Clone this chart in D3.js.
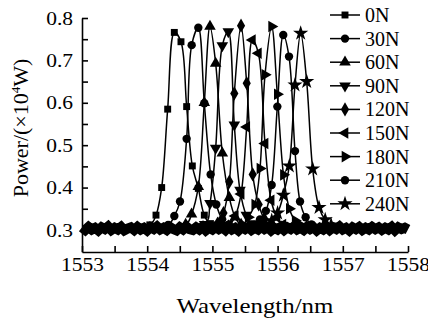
<!DOCTYPE html>
<html>
<head>
<meta charset="utf-8">
<script src="https://cdn.jsdelivr.net/npm/d3@7"></script>
<style>
    body { margin: 0; background: #fff; }
    svg { display: block; }
</style>
</head>
<body>
<script>
const width = 428;
const height = 320;

// loads shown in the legend, one spectrum per load
const loads = ["0N", "30N", "60N", "90N", "120N", "150N", "180N", "210N", "240N"];
const markers = ["square", "circle", "up", "down", "diamond", "left", "right", "circle", "star"];

// [wavelength (nm), power]
const s0N = [[1553.00, 0.304], [1554.04, 0.312], [1554.135, 0.335], [1554.222, 0.400], [1554.314, 0.585], [1554.416, 0.766], [1554.518, 0.744], [1554.605, 0.591], [1554.692, 0.451], [1554.784, 0.398], [1554.876, 0.335], [1554.97, 0.315], [1558.00, 0.304]];
const s30N = [[1553.00, 0.304], [1554.32, 0.312], [1554.416, 0.333], [1554.503, 0.367], [1554.605, 0.515], [1554.682, 0.736], [1554.784, 0.777], [1554.876, 0.599], [1554.973, 0.431], [1555.06, 0.360], [1555.15, 0.325], [1555.24, 0.312], [1558.00, 0.304]];
const s60N = [[1553.00, 0.304], [1554.59, 0.313], [1554.68, 0.337], [1554.784, 0.402], [1554.876, 0.600], [1554.963, 0.780], [1555.05, 0.693], [1555.152, 0.481], [1555.26, 0.376], [1555.35, 0.330], [1555.44, 0.313], [1558.00, 0.304]];
const s90N = [[1553.00, 0.304], [1554.88, 0.313], [1554.963, 0.363], [1555.05, 0.493], [1555.152, 0.735], [1555.244, 0.768], [1555.336, 0.548], [1555.423, 0.394], [1555.52, 0.335], [1555.61, 0.315], [1558.00, 0.304]];
const s120N = [[1553.00, 0.304], [1555.08, 0.315], [1555.17, 0.340], [1555.26, 0.414], [1555.336, 0.622], [1555.439, 0.782], [1555.526, 0.646], [1555.618, 0.431], [1555.71, 0.360], [1555.80, 0.325], [1555.89, 0.312], [1558.00, 0.304]];
const s150N = [[1553.00, 0.304], [1555.26, 0.313], [1555.35, 0.333], [1555.44, 0.385], [1555.526, 0.543], [1555.613, 0.748], [1555.705, 0.717], [1555.807, 0.504], [1555.90, 0.370], [1555.99, 0.330], [1556.08, 0.313], [1558.00, 0.304]];
const s180N = [[1553.00, 0.304], [1555.46, 0.313], [1555.55, 0.330], [1555.65, 0.360], [1555.73, 0.445], [1555.807, 0.666], [1555.909, 0.780], [1555.996, 0.620], [1556.09, 0.430], [1556.18, 0.350], [1556.27, 0.322], [1556.36, 0.311], [1558.00, 0.304]];
const s210N = [[1553.00, 0.304], [1555.64, 0.312], [1555.73, 0.325], [1555.82, 0.345], [1555.909, 0.406], [1555.996, 0.591], [1556.087, 0.760], [1556.175, 0.709], [1556.267, 0.486], [1556.344, 0.367], [1556.43, 0.330], [1556.52, 0.313], [1558.00, 0.304]];
const s240N = [[1553.00, 0.304], [1555.82, 0.312], [1555.91, 0.322], [1556.00, 0.340], [1556.088, 0.382], [1556.18, 0.451], [1556.267, 0.642], [1556.354, 0.764], [1556.446, 0.650], [1556.538, 0.444], [1556.635, 0.353], [1556.73, 0.324], [1556.82, 0.312], [1558.00, 0.304]];
const spectra = [s0N, s30N, s60N, s90N, s120N, s150N, s180N, s210N, s240N];

// noise floor shared by all spectra, every 0.05 nm from 1553 to 1558
const noiseStart = 1553;
const noiseStep = 0.05;
const noiseFloor = [
    0.306, 0.300, 0.307, 0.301, 0.305, 0.299, 0.306, 0.302, 0.308, 0.300,
    0.305, 0.301, 0.307, 0.299, 0.303, 0.306, 0.300, 0.307, 0.301, 0.305,
    0.299, 0.306, 0.302, 0.308, 0.301, 0.305, 0.300, 0.307, 0.302, 0.299,
    0.306, 0.301, 0.308, 0.302, 0.300, 0.306, 0.301, 0.307, 0.299, 0.305,
    0.301, 0.307, 0.302, 0.306, 0.300, 0.308, 0.301, 0.305, 0.299, 0.306,
    0.302, 0.307, 0.300, 0.305, 0.301, 0.308, 0.302, 0.306, 0.299, 0.305,
    0.301, 0.307, 0.300, 0.306, 0.302, 0.308, 0.301, 0.305, 0.300, 0.307,
    0.302, 0.306, 0.299, 0.305, 0.301, 0.307, 0.300, 0.306, 0.302, 0.308,
    0.301, 0.305, 0.299, 0.306, 0.302, 0.307, 0.300, 0.305, 0.301, 0.307,
    0.302, 0.306, 0.300, 0.305, 0.301, 0.307, 0.299, 0.306, 0.302, 0.305,
    0.301
];

const xTicks = [1553, 1554, 1555, 1556, 1557, 1558];
const xMinorTicks = [1553.5, 1554.5, 1555.5, 1556.5, 1557.5];
const yTicks = [0.3, 0.4, 0.5, 0.6, 0.7, 0.8];
const yMinorTicks = [0.35, 0.45, 0.55, 0.65, 0.75];

const serif = '"Liberation Serif", Tinos, "Times New Roman", Times, serif';
// horizontal text in the source figure is a little wider than plain Times
const widen = 1.13;

function stretch(sel) {
    sel.each(function() {
        const w = this.getComputedTextLength();
        d3.select(this)
            .attr("textLength", w * widen)
            .attr("lengthAdjust", "spacingAndGlyphs");
    });
}

const svg = d3.select("body")
    .append("svg")
    .attr("width", width)
    .attr("height", height);

const x = d3.scaleLinear().domain([1553, 1558]).range([82, 408]);
const y = d3.scaleLinear().domain([0.248, 0.8]).range([252, 18]);

// axes, ticks pointing into the plot
const xAxis = svg.append("g")
    .attr("transform", `translate(0,${y.range()[0]})`)
    .call(d3.axisBottom(x).tickValues(xTicks).tickFormat(d3.format("d"))
        .tickSizeInner(-6).tickSizeOuter(0).tickPadding(6));
svg.append("g")
    .attr("transform", `translate(0,${y.range()[0]})`)
    .call(d3.axisBottom(x).tickValues(xMinorTicks).tickFormat("")
        .tickSizeInner(-6).tickSizeOuter(0))
    .select(".domain").remove();

const yAxis = svg.append("g")
    .attr("transform", `translate(${x.range()[0]},0)`)
    .call(d3.axisLeft(y).tickValues(yTicks).tickFormat(d3.format(".1f"))
        .tickSizeInner(-6).tickSizeOuter(0).tickPadding(9));
svg.append("g")
    .attr("transform", `translate(${x.range()[0]},0)`)
    .call(d3.axisLeft(y).tickValues(yMinorTicks).tickFormat("")
        .tickSizeInner(-6).tickSizeOuter(0))
    .select(".domain").remove();

svg.selectAll(".domain, .tick line")
    .attr("stroke", "#000")
    .attr("stroke-width", 1.6);

[xAxis, yAxis].forEach((g) => {
    g.attr("font-family", serif).attr("font-size", 19);
    g.selectAll("text").attr("fill", "#000").call(stretch);
});

// axis titles
svg.append("text")
    .attr("x", 255)
    .attr("y", 313)
    .attr("text-anchor", "middle")
    .attr("font-family", serif)
    .attr("font-size", 22)
    .text("Wavelength/nm")
    .call(stretch);

const yTitle = svg.append("text")
    .attr("transform", "translate(28,128) rotate(-90)")
    .attr("text-anchor", "middle")
    .attr("font-family", serif)
    .attr("font-size", 22);
yTitle.append("tspan").text("Power/(×10");
yTitle.append("tspan").attr("font-size", 13).attr("dy", -8).text("4");
yTitle.append("tspan").attr("dy", 8).text("W)");

// marker shapes
function markerPath(kind) {
    if (kind === "square") return d3.symbol(d3.symbolSquare, 48)();
    if (kind === "circle") return d3.symbol(d3.symbolCircle, 55)();
    if (kind === "diamond") return d3.symbol(d3.symbolDiamond, 58)();
    if (kind === "star") return d3.symbol(d3.symbolStar, 72)();
    return d3.symbol(d3.symbolTriangle, 58)();
}
function markerRotation(kind) {
    if (kind === "down") return 180;
    if (kind === "left") return -90;
    if (kind === "right") return 90;
    return 0;
}

const line = d3.line()
    .x((d) => x(d[0]))
    .y((d) => y(d[1]))
    .curve(d3.curveCatmullRom);

const plot = svg.append("g");

// noise floor band
plot.append("path")
    .datum(noiseFloor)
    .attr("fill", "none")
    .attr("stroke", "#000")
    .attr("stroke-width", 10)
    .attr("stroke-linejoin", "miter")
    .attr("d", d3.line()
        .x((d, i) => x(noiseStart + i * noiseStep))
        .y((d) => y(d)));

spectra.forEach((data, k) => {
    plot.append("path")
        .datum(data)
        .attr("fill", "none")
        .attr("stroke", "#000")
        .attr("stroke-width", 1.5)
        .attr("d", line);

    plot.selectAll(`.m${k}`)
        .data(data.slice(1, -1))
        .enter()
        .append("path")
        .attr("class", `m${k}`)
        .attr("d", markerPath(markers[k]))
        .attr("transform", (d) => `translate(${x(d[0])},${y(d[1])}) rotate(${markerRotation(markers[k])})`)
        .attr("fill", "#000");
});

// legend
const legend = svg.append("g")
    .selectAll("g")
    .data(loads)
    .enter()
    .append("g")
    .attr("transform", (d, i) => `translate(330,${15 + i * 23.6})`);

legend.append("line")
    .attr("x1", 0)
    .attr("x2", 30)
    .attr("stroke", "#000")
    .attr("stroke-width", 1.5);

legend.append("path")
    .attr("d", (d, i) => markerPath(markers[i]))
    .attr("transform", (d, i) => `translate(15,0) rotate(${markerRotation(markers[i])})`)
    .attr("fill", "#000");

legend.append("text")
    .attr("x", 35)
    .attr("dy", "0.35em")
    .attr("font-family", serif)
    .attr("font-size", 20)
    .text((d) => d);
</script>
</body>
</html>
